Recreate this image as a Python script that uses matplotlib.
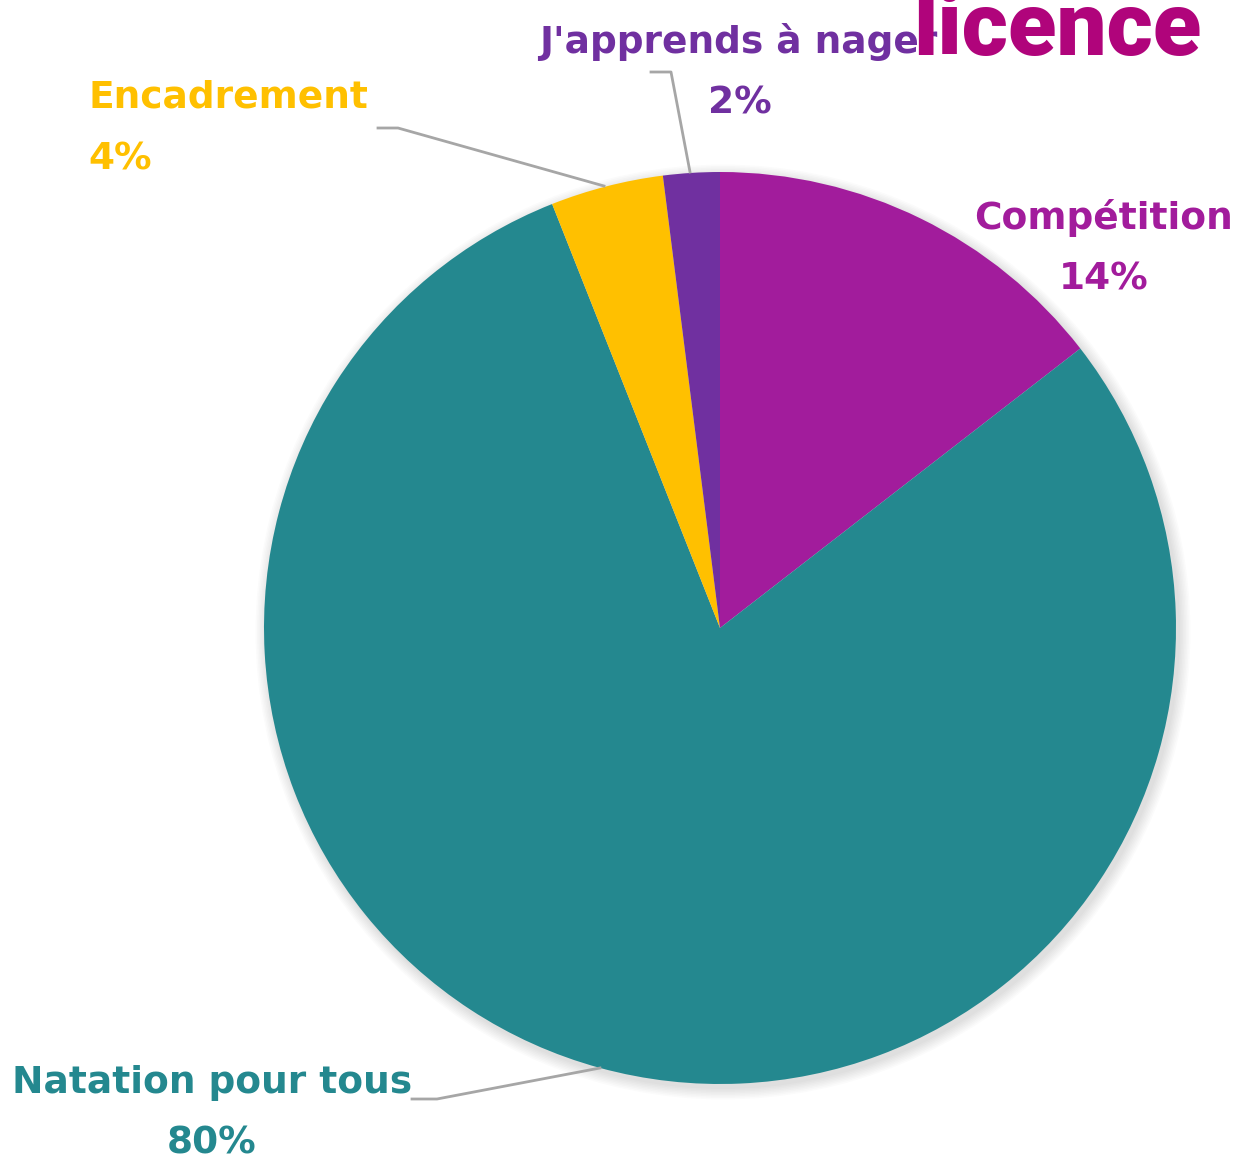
import matplotlib.pyplot as plt
from matplotlib.patches import Circle

W, H = 1239, 1165

categories = ['Compétition', 'Natation pour tous', 'Encadrement', "J'apprends à nager"]
shares = [14.5, 79.5, 4.0, 2.0]          # estimated slice sizes
pct_labels = ['14%', '80%', '4%', '2%']
colors = ['#A21C9C', '#24888F', '#FFC000', '#7030A0']

fig = plt.figure(figsize=(W / 100, H / 100), dpi=100)
ax = fig.add_axes([0, 0, 1, 1])

cx, cy, r = 720, H - 628, 456

# soft shadow under the pie
for i in range(8):
    ax.add_patch(Circle((cx + 3, cy - 4), r + 1 + i * 1.5, color='black',
                        alpha=0.014, lw=0, zorder=0))

ax.pie(shares, colors=colors, startangle=90, counterclock=False,
       center=(cx, cy), radius=r, wedgeprops=dict(linewidth=0))

ax.set_xlim(0, W)
ax.set_ylim(0, H)
ax.set_aspect('equal')
ax.axis('off')

fs = 27
kw = dict(fontsize=fs, fontweight='bold', family=['DejaVu Sans'], va='center')


def y(v):
    return H - v


ax.text(1104, y(218), categories[0], color=colors[0], ha='center', **kw)
ax.text(1104, y(280), pct_labels[0], color=colors[0], ha='center', **kw)

ax.text(212, y(1083), categories[1], color=colors[1], ha='center', **kw)
ax.text(212, y(1143), pct_labels[1], color=colors[1], ha='center', **kw)

ax.text(88, y(98), categories[2], color=colors[2], ha='left', **kw)
ax.text(88, y(160), pct_labels[2], color=colors[2], ha='left', **kw)

ax.text(738, y(42), categories[3], color=colors[3], ha='center', **kw)
ax.text(740, y(103), pct_labels[3], color=colors[3], ha='center', **kw)

# leader lines
lc = '#A6A6A6'
ax.plot([651, 671, 690], [y(72), y(72), y(172)], color=lc, lw=2, zorder=1)
ax.plot([378, 398, 604], [y(128), y(128), y(186)], color=lc, lw=2, zorder=1)
ax.plot([412, 437, 600], [y(1099), y(1099), y(1068)], color=lc, lw=2, zorder=1)

# cropped title fragment
ax.text(913, y(55), 'licence', color='#B0047B', fontsize=64, fontweight='heavy',
        family=['Roboto', 'DejaVu Sans'], ha='left', va='baseline', zorder=5)

fig.savefig('out.png', dpi=100)
